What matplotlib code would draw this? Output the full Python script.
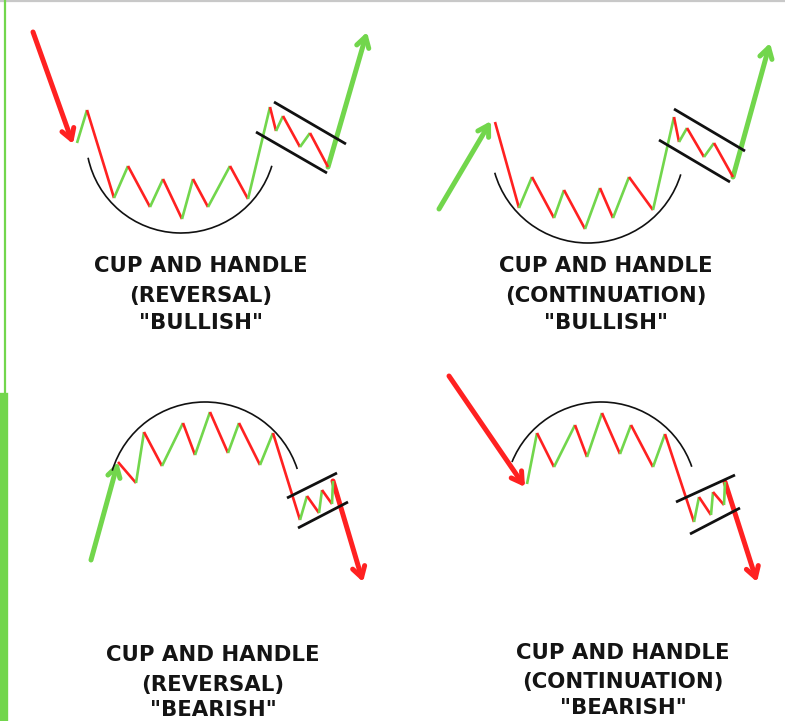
import matplotlib
matplotlib.use("Agg")
import matplotlib.pyplot as plt
from matplotlib.patches import Arc, FancyArrowPatch
import numpy as np

GREEN = "#72d64c"
RED = "#ff2121"
BLACK = "#111111"

# ---------------- data (pixel coordinates of the drawing) ----------------
# Panel 1: reversal bullish
p1_zz_x = [77, 87, 114, 128, 150, 163, 182, 193, 208, 230, 248, 270, 276, 283, 300, 310, 328]
p1_zz_y = [143, 110, 198, 166, 207, 179, 219, 179, 207, 166, 199, 107, 131, 116, 147, 133, 167]
p1_arrow_in = [(33, 32), (73, 144)]
p1_arrow_out = [(328, 167), (367, 32)]
p1_cup = dict(cx=181, cy=138, r=95, t1=17, t2=168)
p1_chan_up = [(274, 102), (346, 144)]
p1_chan_lo = [(256, 132), (327, 173)]

# Panel 2: continuation bullish
p2_zz_x = [495, 519, 532, 554, 564, 585, 600, 613, 629, 653, 674, 679, 687, 704, 714, 733]
p2_zz_y = [122, 208, 177, 218, 190, 229, 188, 218, 177, 210, 117, 142, 128, 157, 143, 177]
p2_arrow_in = [(439, 209), (491, 121)]
p2_arrow_out = [(733, 177), (770, 43)]
p2_cup = dict(cx=588, cy=146, r=97, t1=17, t2=164)
p2_chan_up = [(674, 109), (745, 151)]
p2_chan_lo = [(659, 140), (730, 182)]

# Panel 3: reversal bearish
p3_zz_x = [118, 136, 144, 162, 183, 195, 210, 228, 239, 260, 273, 300, 307, 319, 322, 332, 333]
p3_zz_y = [462, 483, 432, 466, 423, 455, 412, 453, 423, 465, 433, 520, 496, 513, 490, 504, 481]
p3_arrow_in = [(91, 560), (118, 462)]
p3_arrow_out = [(333, 481), (363, 582)]
p3_cup = dict(cx=205, cy=499, r=97, t1=197, t2=342)
p3_chan_up = [(287, 498), (337, 473)]
p3_chan_lo = [(298, 528), (348, 502)]

# Panel 4: continuation bearish
p4_zz_x = [527, 537, 554, 575, 587, 602, 620, 631, 653, 665, 694, 699, 711, 713, 724, 725]
p4_zz_y = [484, 433, 467, 425, 457, 413, 454, 425, 467, 434, 522, 497, 515, 492, 505, 482]
p4_arrow_in = [(449, 376), (525, 487)]
p4_arrow_out = [(725, 482), (757, 582)]
p4_cup = dict(cx=601, cy=498, r=96, t1=202, t2=341)
p4_chan_up = [(676, 502), (735, 475)]
p4_chan_lo = [(690, 534), (740, 508)]

titles = [
    ["CUP AND HANDLE", "(REVERSAL)", '"BULLISH"'],
    ["CUP AND HANDLE", "(CONTINUATION)", '"BULLISH"'],
    ["CUP AND HANDLE", "(REVERSAL)", '"BEARISH"'],
    ["CUP AND HANDLE", "(CONTINUATION)", '"BEARISH"'],
]
title_x = [201, 606, 213, 623]
title_y = [[266, 296, 323], [266, 296, 323], [655, 685, 710], [653, 682, 708]]

# ---------------- drawing ----------------
fig = plt.figure(figsize=(7.85, 7.21), dpi=100)
ax = fig.add_axes([0, 0, 1, 1])
ax.set_xlim(0, 785)
ax.set_ylim(721, 0)
ax.axis("off")


def arrow(pts, color):
    a = FancyArrowPatch(pts[0], pts[1], arrowstyle="->,head_length=7.5,head_width=4.5",
                        color=color, lw=3.6, mutation_scale=1, capstyle="round",
                        joinstyle="round", shrinkA=0, shrinkB=0)
    ax.add_patch(a)


def panel(zx, zy, a_in, a_out, cup, up, lo):
    for i in range(len(zx) - 1):
        c = GREEN if zy[i + 1] < zy[i] else RED
        ax.plot([zx[i], zx[i + 1]], [zy[i], zy[i + 1]], color=c, lw=1.9,
                solid_capstyle="butt")
    col_in = GREEN if a_in[1][1] < a_in[0][1] else RED
    col_out = GREEN if a_out[1][1] < a_out[0][1] else RED
    arrow(a_in, col_in)
    arrow(a_out, col_out)
    ax.add_patch(Arc((cup["cx"], cup["cy"]), 2 * cup["r"], 2 * cup["r"],
                     theta1=cup["t1"], theta2=cup["t2"], color=BLACK, lw=1.2))
    for ln in (up, lo):
        ax.plot([ln[0][0], ln[1][0]], [ln[0][1], ln[1][1]], color=BLACK, lw=2.0,
                solid_capstyle="butt")


panel(p1_zz_x, p1_zz_y, p1_arrow_in, p1_arrow_out, p1_cup, p1_chan_up, p1_chan_lo)
panel(p2_zz_x, p2_zz_y, p2_arrow_in, p2_arrow_out, p2_cup, p2_chan_up, p2_chan_lo)
panel(p3_zz_x, p3_zz_y, p3_arrow_in, p3_arrow_out, p3_cup, p3_chan_up, p3_chan_lo)
panel(p4_zz_x, p4_zz_y, p4_arrow_in, p4_arrow_out, p4_cup, p4_chan_up, p4_chan_lo)

for t, x, ys in zip(titles, title_x, title_y):
    for s, y in zip(t, ys):
        ax.text(x, y, s, ha="center", va="center", fontsize=15.3,
                fontfamily="DejaVu Sans", fontweight="bold", color="#141414")

# frame decorations: top grey rule and left green bars
ax.plot([0, 785], [1, 1], color="#c8c8c8", lw=1.6)
ax.plot([5, 5], [0, 397], color=GREEN, lw=1.6)
ax.plot([4, 4], [397, 721], color=GREEN, lw=6)

fig.savefig("out.png", dpi=100)
